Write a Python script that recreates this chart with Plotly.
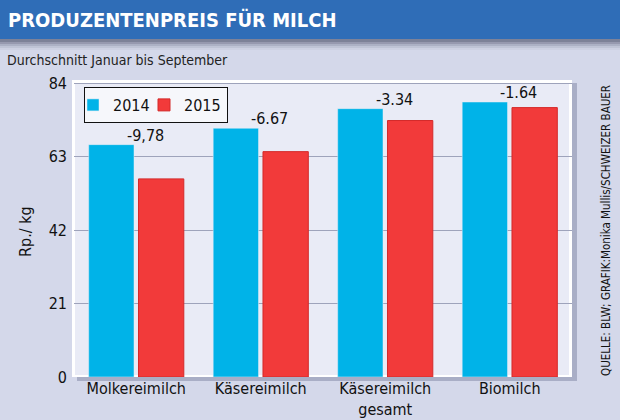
"""Produzentenpreis für Milch: grouped bars 2014 vs 2015."""

import plotly.graph_objects as go

categories = ["Molkereimilch", "Käsereimilch", "Käsereimilch<br>gesamt", "Biomilch"]
price_2014 = [66.5, 71.2, 76.8, 78.7]
price_2015 = [56.7, 64.5, 73.4, 77.1]
change_labels = ["-9,78", "-6.67", "-3.34", "-1.64"]
y_ticks = [0, 21, 42, 63, 84]

W, H = 620, 420
L, R, T, B = 74, 48, 80, 43
PW, PH = W - L - R, H - T - B
FONT = "Liberation Sans Narrow, DejaVu Sans Condensed, sans-serif"


def px_x(x):
    return (x - L) / PW


def px_y(y):
    return (H - B - y) / PH


fig = go.Figure()
fig.add_trace(go.Bar(name="2014", x=categories, y=price_2014, marker_color="#00b3e8"))
fig.add_trace(go.Bar(name="2015", x=categories, y=price_2015, marker_color="#f23a3a",
                     marker_line=dict(color="#d42a2a", width=1)))

shapes = []
# title bar and its soft shadow
for i, op in enumerate([0.30, 0.22, 0.15, 0.09, 0.05]):
    shapes.append(dict(type="rect", xref="paper", yref="paper", layer="below",
                       x0=px_x(0), x1=px_x(W), y0=px_y(40 + 2 * (i + 1)), y1=px_y(38),
                       fillcolor=f"rgba(70,75,100,{op})", line_width=0))
shapes.append(dict(type="rect", xref="paper", yref="paper", layer="below",
                   x0=px_x(0), x1=px_x(W), y0=px_y(39), y1=px_y(0),
                   fillcolor="#2f6db7", line_width=0))
# plot frame shadow, frame and inner background
shapes.append(dict(type="rect", xref="paper", yref="paper", layer="below",
                   x0=px_x(L + 3), x1=px_x(L + PW + 5), y0=px_y(H - B + 4), y1=px_y(T + 3),
                   fillcolor="#a9aec6", line_width=0))
shapes.append(dict(type="rect", xref="paper", yref="paper", layer="below",
                   x0=px_x(L - 2), x1=px_x(L + PW), y0=px_y(H - B), y1=px_y(T),
                   fillcolor="#ffffff", line_width=0))
shapes.append(dict(type="rect", xref="paper", yref="paper", layer="below",
                   x0=px_x(L + 1), x1=px_x(L + PW - 3), y0=px_y(H - B - 2), y1=px_y(T + 3),
                   fillcolor="#e9ebf6", line_width=0))

annotations = [
    dict(text="<b>PRODUZENTENPREIS FÜR MILCH</b>", x=px_x(6), y=px_y(20),
         xanchor="left", yanchor="middle", font=dict(size=20, color="white")),
    dict(text="Durchschnitt Januar bis September", x=px_x(5), y=px_y(60),
         xanchor="left", yanchor="middle", font=dict(size=14, color="#222")),
    dict(text="Rp./ kg", x=px_x(25), y=px_y(232), textangle=-90,
         xanchor="center", yanchor="middle", font=dict(size=16, color="#111")),
    dict(text="QUELLE: BLW; GRAFIK:Monika Mullis/SCHWEIZER BAUER", x=px_x(606),
         y=px_y(231), textangle=-90, xanchor="center", yanchor="middle",
         font=dict(size=11.5, color="#111")),
]
for cat, val, lab in zip(categories, price_2014, change_labels):
    annotations.append(dict(text=lab, x=cat, y=val, xref="x", yref="y", xshift=9,
                            yshift=-2, yanchor="bottom", showarrow=False,
                            font=dict(size=16, color="#111")))
for a in annotations:
    a.setdefault("xref", "paper")
    a.setdefault("yref", "paper")
    a["showarrow"] = False

fig.update_layout(
    width=W, height=H,
    margin=dict(l=L, r=R, t=T, b=B, autoexpand=False),
    paper_bgcolor="#d4d8ea",
    plot_bgcolor="rgba(0,0,0,0)",
    font=dict(family=FONT, size=16, color="#111"),
    barmode="group", bargap=0.2, bargroupgap=0.09,
    shapes=shapes, annotations=annotations,
    legend=dict(orientation="h", x=px_x(84), y=px_y(87), xanchor="left", yanchor="top",
                bgcolor="#f6f7fb", bordercolor="#111", borderwidth=1,
                font=dict(size=16), itemwidth=30, tracegroupgap=0,
                entrywidth=38, indentation=-12),
    showlegend=True,
)
fig.update_yaxes(range=[0, 85], tickvals=y_ticks, showgrid=True, gridcolor="#9ea3bb",
                 gridwidth=1, zeroline=False, ticks="", ticklabelstandoff=6,
                 tickfont=dict(size=16), automargin=False)
fig.update_xaxes(showgrid=False, ticks="", tickfont=dict(size=16), showline=False,
                 automargin=False)

# the page keeps the browser's default body margin otherwise
fig.write_html("out.html", config={"displayModeBar": False},
               post_script="document.body.style.margin='0';")
